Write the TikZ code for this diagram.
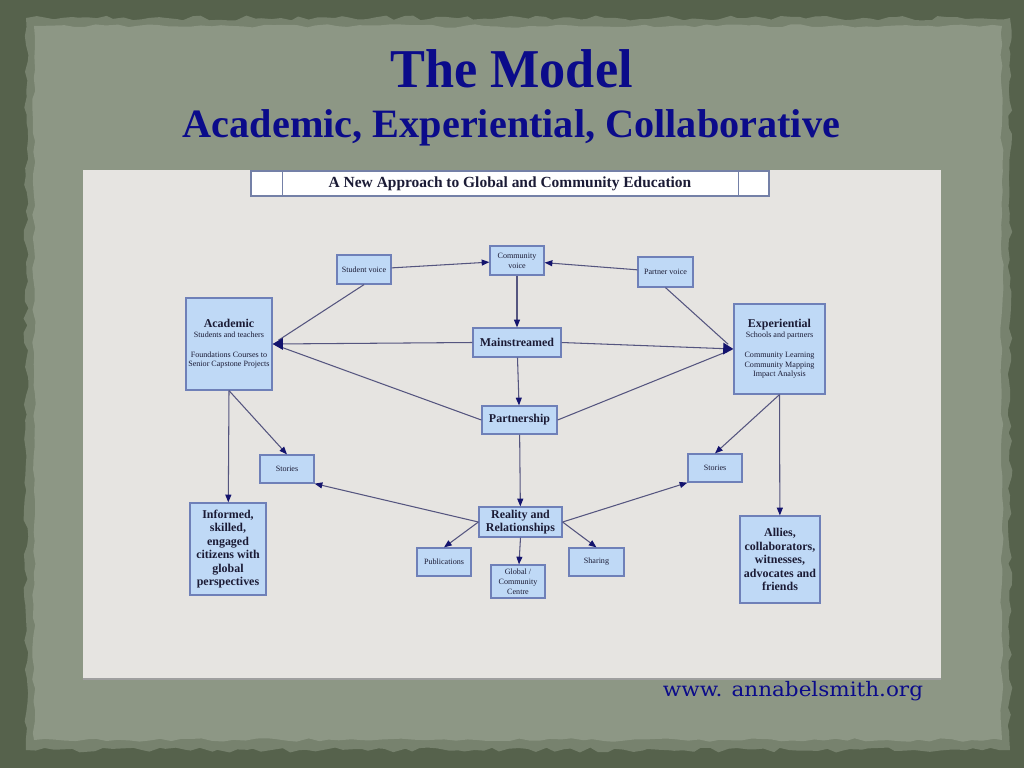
\documentclass[tikz,border=0pt]{standalone}
\usepackage{fontspec}
\setmainfont{Liberation Serif}
\newfontfamily\urlfont{DejaVu Serif}
\usepackage{graphicx}
\usetikzlibrary{arrows.meta,positioning,calc,shadows,decorations.pathmorphing}
\definecolor{olive}{HTML}{56624C}
\definecolor{paper}{HTML}{8D9785}
\definecolor{paperedge}{HTML}{77826E}
\definecolor{panel}{HTML}{E6E4E1}
\definecolor{boxblue}{HTML}{BFD9F6}
\definecolor{boxline}{HTML}{6F80B8}
\definecolor{wire}{HTML}{55557F}
\definecolor{tip}{HTML}{14146E}
\definecolor{navy}{HTML}{0B0B8A}
\definecolor{ink}{HTML}{1B1B35}
\tikzset{
  >={Triangle[length=4.4pt,width=3.4pt,color=tip]},
  box/.style={draw=boxline, fill=boxblue, line width=.7pt, inner sep=0pt, align=center, text=ink,
    drop shadow={shadow xshift=.8pt,shadow yshift=-.8pt,fill=black,opacity=.3}},
  minor/.style={box, font=\fontsize{4.6}{5.6}\selectfont},
  major/.style={box, font=\fontsize{6.8}{7.7}\selectfont\bfseries},
  link/.style={->, line width=.6pt, draw=wire},
  feed/.style={line width=.6pt, draw=wire, shorten >=4pt},
  hub/.style={link, >={Triangle[length=5.8pt,width=6.6pt,color=tip]}}
}
\begin{document}
\begin{tikzpicture}[x=0.02cm,y=-0.02cm]
  \useasboundingbox (0,0) rectangle (1024,768);
  \fill[olive] (0,0) rectangle (1024,768);
  \pgfmathsetseed{7}
  \fill[paperedge,decorate,decoration={random steps,segment length=5pt,amplitude=1.4pt}] (26,18) rectangle (1010,750);
  \fill[paper,decorate,decoration={random steps,segment length=6pt,amplitude=1pt}] (34,26) rectangle (1002,740);

  \node[text=navy,anchor=base] (title) at (511.5,87) {\resizebox{138pt}{21.6pt}{\bfseries The Model}};
  \node[text=navy,anchor=base] (subtitle) at (511.5,137) {\resizebox{374pt}{15.9pt}{\bfseries Academic, Experiential, Collaborative}};

  \fill[panel] (83,170) rectangle (941,680);
  \draw[gray!75,line width=1.1pt] (83,679) -- (941,679);

  \node[draw=boxline!70!gray,fill=white,line width=.7pt,minimum width=10.36cm,minimum height=.5cm,inner sep=0pt,
    font=\fontsize{8.8}{10}\selectfont\bfseries,text=ink,drop shadow={shadow xshift=.8pt,shadow yshift=-.8pt,fill=black,opacity=.3}]
    (head) at (510,183.5) {A New Approach to Global and Community Education};
  \draw[boxline!70!gray,line width=.6pt] ($(head.north west)+(32,0)$) -- ($(head.south west)+(32,0)$);
  \draw[boxline!70!gray,line width=.6pt] ($(head.north east)+(-31,0)$) -- ($(head.south east)+(-31,0)$);

  % voices
  \node[minor,minimum width=1.08cm,minimum height=.58cm] (sv) at (364,269.5) {Student voice};
  \node[minor,minimum width=1.08cm,minimum height=.58cm] (cv) at (517,260.5) {Community\\voice};
  \node[minor,minimum width=1.1cm,minimum height=.6cm] (pv) at (665.5,272) {Partner voice};

  % the two sides
  \node[minor,minimum width=1.72cm,minimum height=1.84cm] (ac) at (229,344)
    {{\fontsize{6.8}{7.7}\selectfont\bfseries Academic}\\Students and teachers\\[5.6pt]Foundations Courses to\\Senior Capstone Projects};
  \node[minor,minimum width=1.82cm,minimum height=1.8cm] (ex) at (779.5,349)
    {{\fontsize{6.8}{7.7}\selectfont\bfseries Experiential}\\Schools and partners\\[5.6pt]Community Learning\\Community Mapping\\Impact Analysis};

  % centre column
  \node[major,minimum width=1.76cm,minimum height=.58cm] (ms) at (517,342.5) {Mainstreamed};
  \node[major,minimum width=1.5cm,minimum height=.56cm] (ps) at (519.5,420) {Partnership};
  \node[major,minimum width=1.66cm,minimum height=.6cm] (rr) at (520.5,522) {Reality and\\Relationships};

  \node[minor,minimum width=1.08cm,minimum height=.56cm] (stl) at (287,469) {Stories};
  \node[minor,minimum width=1.08cm,minimum height=.56cm] (str) at (715,468) {Stories};
  \node[minor,minimum width=1.08cm,minimum height=.56cm] (pub) at (444,562) {Publications};
  \node[minor,minimum width=1.08cm,minimum height=.66cm] (gc) at (518,581.5) {Global /\\Community\\Centre};
  \node[minor,minimum width=1.1cm,minimum height=.56cm] (sh) at (596.5,562) {Sharing};

  % outcomes
  \node[major,minimum width=1.52cm,minimum height=1.84cm] (inf) at (228,549) {Informed,\\skilled,\\engaged\\citizens with\\global\\perspectives};
  \node[major,minimum width=1.6cm,minimum height=1.74cm] (al) at (780,559.5) {Allies,\\collaborators,\\witnesses,\\advocates and\\friends};

  \draw[link] (sv) -- (cv);
  \draw[link] (pv) -- (cv);
  \draw[link] (cv) -- (ms);
  \draw[link] (ms) -- (ps);
  \draw[link] (ps) -- (rr);
  \foreach \n in {sv.south,ps.west}
    \draw[feed] (\n) -- (ac.east);
  \foreach \n in {pv.south,ps.east}
    \draw[feed] (\n) -- (ex.west);
  \draw[hub] (ms.west) -- (ac.east);
  \draw[hub] (ms.east) -- (ex.west);
  \draw[link] (ac.south) -- (inf);
  \draw[link] (ac.south) -- (stl.north);
  \draw[link] (ex.south) -- (al);
  \draw[link] (ex.south) -- (str.north);
  \draw[link] (rr.west) -- (stl.south east);
  \draw[link] (rr.east) -- (str.south west);
  \draw[link] (rr.west) -- (pub.north);
  \draw[link] (rr.south) -- (gc);
  \draw[link] (rr.east) -- (sh.north);

  \node[text=navy,anchor=base] (url) at (793,696) {\resizebox{148pt}{8.6pt}{\urlfont www. annabelsmith.org}};
\end{tikzpicture}
\end{document}
